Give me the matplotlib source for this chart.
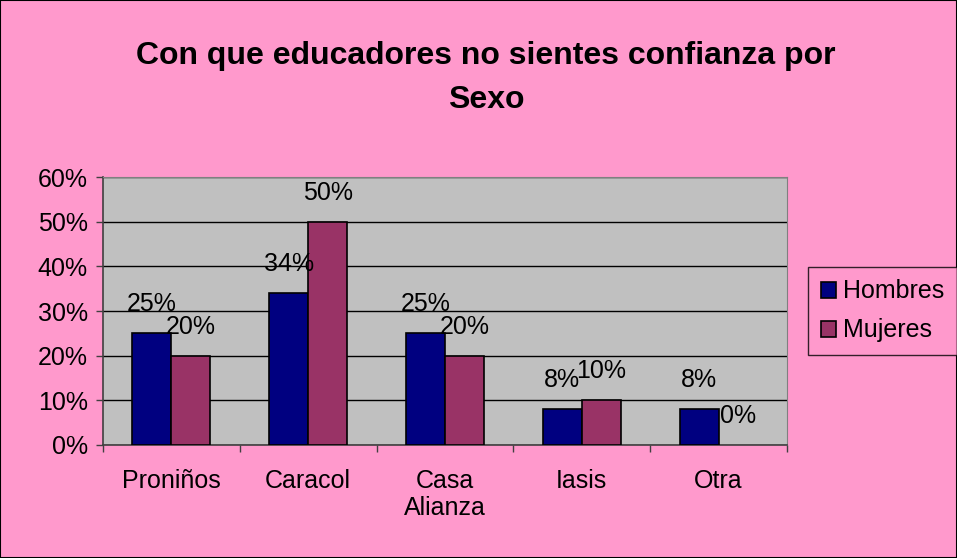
import numpy as np
import matplotlib.pyplot as plt
from matplotlib.patches import Rectangle

plt.rcParams['font.family'] = ['Liberation Sans', 'DejaVu Sans']

categories = ["Proniños", "Caracol", "Casa\nAlianza", "Iasis", "Otra"]
hombres = [25, 34, 25, 8, 8]
mujeres = [20, 50, 20, 10, 0]

pink = "#FF99CC"
fig = plt.figure(figsize=(9.57, 5.58), dpi=100, facecolor=pink)
fig.patches.append(Rectangle((0, 0), 1, 1, transform=fig.transFigure,
                             fill=False, edgecolor="black", linewidth=1.5))

ax = fig.add_axes([103 / 957, 1 - 445 / 558, 684 / 957, 268 / 558])
ax.set_facecolor("#C0C0C0")

x = np.arange(len(categories))
w = 0.285
b1 = ax.bar(x - w / 2, hombres, w, color="#000080", edgecolor="black",
            linewidth=1.2, label="Hombres", zorder=3)
b2 = ax.bar(x + w / 2, mujeres, w, color="#993366", edgecolor="black",
            linewidth=1.2, label="Mujeres", zorder=3)

for bars, vals in ((b1, hombres), (b2, mujeres)):
    for r, v in zip(bars, vals):
        if v == 0:
            r.set_linewidth(0)
        ax.text(r.get_x() + r.get_width() / 2, v + 6.5, f"{v}%",
                ha="center", va="center", fontsize=18, zorder=4)

ax.set_xlim(-0.5, len(categories) - 0.5)
ax.set_ylim(0, 60)
ax.set_yticks(np.arange(0, 61, 10))
ax.set_yticklabels([f"{t}%" for t in range(0, 61, 10)], fontsize=18)
ax.yaxis.grid(True, color="black", linewidth=1)
ax.set_axisbelow(True)

ax.set_xticks(x)
ax.set_xticklabels(categories, fontsize=18, linespacing=1.2, va="top")
ax.set_xticks(np.arange(-0.5, len(categories)), minor=True)
ax.tick_params(axis="x", which="major", length=0, pad=17)
ax.tick_params(axis="x", which="minor", length=5, width=1, color="#404040")
ax.tick_params(axis="y", length=5, width=1, color="#404040", pad=6)

for s in ("top", "right"):
    ax.spines[s].set_color("#808080")
for s in ("left", "bottom"):
    ax.spines[s].set_color("#404040")
    ax.spines[s].set_linewidth(1.2)

fig.text(486 / 957, 1 - 78 / 558,
         "Con que educadores no sientes confianza por\nSexo",
         ha="center", va="center", fontsize=23, fontweight="bold",
         linespacing=1.6)

leg = fig.legend(handles=[b1, b2], loc="center left",
                 bbox_to_anchor=(808 / 957, 1 - 311 / 558),
                 fontsize=18, frameon=True, fancybox=False,
                 facecolor=pink, edgecolor="black", borderpad=0.5,
                 handlelength=0.6, handleheight=0.6, handletextpad=0.3,
                 labelspacing=0.6, borderaxespad=0)
leg.get_frame().set_linewidth(1)

fig.savefig("out.png", dpi=100, facecolor=pink)
